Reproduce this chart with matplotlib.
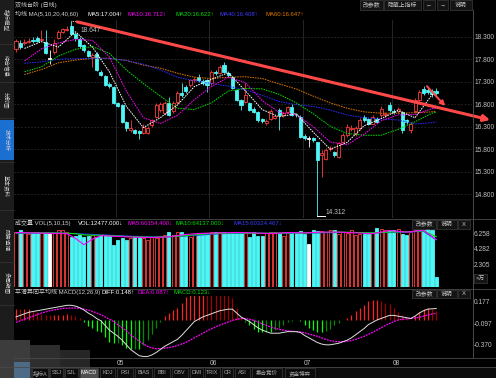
import matplotlib
matplotlib.use("Agg")
import matplotlib.pyplot as plt
from matplotlib.patches import Rectangle
import numpy as np

plt.rcParams['font.family'] = ['Liberation Sans', 'Noto Sans CJK SC', 'DejaVu Sans']

W, H = 496, 378

# ---------------- data ----------------
OPEN = [18.02, 18.16, 18.15, 18.18, 18.23, 18.26, 18.22, 18.19, 17.81, 17.95,
        18.28, 18.41, 18.45, 18.53, 18.37, 18.25, 18.11, 17.98, 17.85, 17.91,
        17.52, 17.42, 17.25, 17.18, 16.82, 16.78, 16.41, 16.22, 16.22, 16.21,
        16.15, 16.17, 16.33, 16.52, 16.67, 16.60, 16.82, 16.65, 16.85, 17.05,
        17.19, 17.23, 17.33, 17.41, 17.31, 17.33, 17.26, 17.52, 17.50, 17.67,
        17.50, 17.41, 17.11, 16.89, 16.85, 16.83, 16.70, 16.63, 16.47, 16.38,
        16.48, 16.50, 16.67, 16.55, 16.63, 16.74, 16.57, 16.52, 16.10, 16.03,
        16.04, 15.95, 15.68, 15.59, 15.80, 15.74, 15.63, 15.97, 16.11, 16.25,
        16.13, 16.26, 16.52, 16.47, 16.37, 16.48, 16.55, 16.55, 16.78, 16.65,
        16.65, 16.63, 16.45, 16.22, 16.65, 16.89, 17.13, 17.11, 17.09, 17.10]
CLOSE = [18.20, 18.06, 18.19, 18.21, 18.20, 18.21, 18.25, 17.94, 17.81, 18.17,
         18.41, 18.46, 18.48, 18.37, 18.26, 18.09, 18.00, 17.88, 17.89, 17.56,
         17.45, 17.22, 17.21, 16.82, 16.77, 16.41, 16.26, 16.27, 16.17, 16.15,
         16.30, 16.26, 16.44, 16.78, 16.80, 16.83, 16.55, 16.83, 17.05, 17.00,
         17.10, 17.33, 17.36, 17.33, 17.26, 17.22, 17.52, 17.49, 17.63, 17.52,
         17.45, 17.15, 16.89, 16.78, 17.00, 16.67, 16.63, 16.45, 16.43, 16.43,
         16.65, 16.53, 16.56, 16.60, 16.74, 16.56, 16.55, 16.07, 16.05, 16.03,
         16.01, 15.55, 15.71, 15.78, 15.83, 15.67, 15.93, 16.11, 16.30, 16.28,
         16.28, 16.44, 16.44, 16.37, 16.52, 16.41, 16.70, 16.58, 16.67, 16.63,
         16.69, 16.22, 16.41, 16.37, 16.89, 17.07, 17.05, 17.07, 17.03, 17.05]
HIGH = [18.25, 18.22, 18.25, 18.27, 18.29, 18.31, 18.45, 18.45, 18.00, 18.25,
        18.45, 18.50, 18.53, 18.647, 18.40, 18.30, 18.13, 18.01, 17.93, 17.95,
        17.55, 17.45, 17.30, 17.20, 16.85, 16.80, 16.43, 16.45, 16.25, 16.23,
        16.35, 16.31, 16.47, 16.83, 16.85, 16.87, 16.95, 16.87, 17.10, 17.26,
        17.23, 17.37, 17.41, 17.47, 17.35, 17.35, 17.55, 17.57, 17.67, 17.73,
        17.53, 17.43, 17.13, 16.91, 17.26, 16.85, 16.73, 16.65, 16.50, 16.47,
        16.69, 16.57, 16.71, 16.63, 16.77, 16.80, 16.60, 16.55, 16.13, 16.10,
        16.07, 15.97, 15.78, 15.83, 15.87, 15.77, 15.97, 16.15, 16.35, 16.33,
        16.31, 16.50, 16.55, 16.50, 16.55, 16.51, 16.75, 16.63, 16.85, 16.69,
        16.73, 16.65, 16.47, 16.41, 16.93, 17.11, 17.21, 17.17, 17.13, 17.15]
LOW = [17.97, 18.02, 18.11, 18.15, 18.17, 18.19, 18.20, 17.92, 17.69, 17.91,
       18.25, 18.38, 18.42, 18.35, 18.20, 18.05, 17.97, 17.85, 17.63, 17.53,
       17.43, 17.20, 17.17, 16.80, 16.73, 16.39, 16.20, 16.18, 16.13, 16.02,
       16.13, 16.13, 16.30, 16.49, 16.63, 16.57, 16.53, 16.60, 16.81, 16.97,
       17.05, 17.19, 17.30, 17.30, 17.23, 17.07, 17.23, 17.45, 17.47, 17.49,
       17.41, 17.13, 16.87, 16.67, 16.83, 16.65, 16.60, 16.40, 16.39, 16.34,
       16.45, 16.47, 16.22, 16.51, 16.60, 16.53, 16.51, 16.05, 16.01, 15.85,
       15.97, 14.312, 15.18, 15.55, 15.75, 15.63, 15.60, 15.93, 16.07, 16.20,
       16.10, 16.23, 16.40, 16.33, 16.35, 16.38, 16.52, 16.51, 16.63, 16.59,
       16.61, 16.17, 16.35, 16.15, 16.60, 16.85, 17.01, 17.03, 16.97, 17.01]

# price moving averages, sampled at candle indices MA_IDX
MA_IDX = [2, 6, 10, 14, 18, 22, 26, 30, 34, 38, 42, 46, 50, 54, 58, 62, 66,
          70, 74, 78, 82, 86, 90, 94, 98, 99]
MA5 = [18.04, 18.19, 18.07, 18.41, 18.07, 17.52, 16.75, 16.28, 16.50, 16.78,
       17.19, 17.35, 17.50, 17.10, 16.68, 16.52, 16.59, 16.18, 15.80, 15.95,
       16.32, 16.48, 16.66, 16.50, 17.01, 17.004]
MA10 = [17.76, 18.03, 18.16, 18.24, 18.22, 17.85, 17.09, 16.50, 16.37, 16.55,
        16.90, 17.19, 17.40, 17.28, 16.88, 16.62, 16.57, 16.30, 15.96, 15.90,
        16.13, 16.43, 16.56, 16.57, 16.70, 16.712]
MA20 = [17.52, 17.63, 17.87, 18.02, 18.08, 17.93, 17.56, 17.26, 16.98, 16.71,
        16.68, 16.83, 17.09, 17.15, 17.14, 17.02, 16.83, 16.59, 16.31, 16.15,
        16.11, 16.11, 16.24, 16.41, 16.60, 16.622]
MA40 = [17.71, 17.74, 17.80, 17.81, 17.82, 17.82, 17.77, 17.69, 17.56, 17.40,
        17.32, 17.26, 17.20, 17.12, 17.00, 16.86, 16.79, 16.75, 16.67, 16.56,
        16.50, 16.47, 16.45, 16.36, 16.39, 16.408]
MA60 = [17.46, 17.57, 17.72, 17.78, 17.82, 17.82, 17.77, 17.67, 17.60, 17.49,
        17.40, 17.37, 17.40, 17.41, 17.37, 17.25, 17.14, 16.98, 16.83, 16.71,
        16.63, 16.60, 16.60, 16.61, 16.63, 16.647]

# volume in units of 10 000 (万)
VOLUME = [7.06, 7.27, 7.06, 6.72, 6.97, 6.97, 6.84, 6.84, 6.84, 6.84,
          7.27, 7.27, 7.06, 6.42, 6.55, 6.63, 6.42, 6.55, 6.63, 6.42,
          6.63, 6.63, 6.55, 5.36, 6.00, 6.21, 6.00, 6.21, 6.42, 6.42,
          6.21, 6.00, 6.42, 6.21, 6.42, 6.63, 6.97, 6.63, 7.06, 7.06,
          6.63, 6.42, 6.63, 6.84, 6.72, 6.84, 6.97, 7.06, 6.97, 7.06,
          6.84, 7.06, 6.84, 6.97, 7.06, 6.42, 7.06, 6.55, 6.55, 6.84,
          7.06, 7.06, 6.84, 6.55, 6.84, 7.06, 7.06, 7.14, 6.72, 5.44,
          7.30, 7.14, 7.14, 6.97, 7.30, 7.30, 6.72, 6.97, 6.84, 7.30,
          6.63, 6.72, 6.72, 6.72, 6.84, 7.50, 7.40, 7.27, 7.27, 7.27,
          7.35, 6.72, 6.63, 6.97, 7.27, 7.27, 7.30, 7.40, 7.27, 1.25]
VMA_IDX = [0, 4, 8, 12, 14, 16, 18, 20, 24, 28, 32, 36, 40, 44, 48, 52, 56,
           60, 64, 68, 72, 76, 80, 84, 88, 92, 96, 99]
VMA5 = [6.95, 6.90, 6.85, 6.80, 6.20, 5.40, 6.10, 6.55, 6.45, 6.35, 6.30, 6.40,
        6.70, 6.85, 6.90, 6.95, 6.90, 6.80, 6.95, 6.90, 7.00, 7.00, 6.90, 6.80,
        7.20, 7.00, 7.25, 6.02]
VMA10 = [6.90, 6.90, 6.90, 6.85, 6.80, 6.65, 6.60, 6.60, 6.50, 6.40, 6.35, 6.40,
         6.55, 6.75, 6.85, 6.90, 6.85, 6.85, 6.90, 6.90, 6.95, 7.00, 6.95, 6.90,
         7.00, 7.05, 7.15, 6.41]
VMA15 = [6.85, 6.85, 6.90, 6.85, 6.80, 6.75, 6.70, 6.65, 6.55, 6.45, 6.40, 6.40,
         6.50, 6.65, 6.80, 6.85, 6.85, 6.85, 6.85, 6.90, 6.90, 6.95, 6.95, 6.90,
         6.95, 7.00, 7.10, 6.03]

DIFF = [0.04, 0.06, 0.08, 0.10, 0.11, 0.12, 0.13, 0.14, 0.15, 0.16,
        0.17, 0.18, 0.19, 0.19, 0.18, 0.16, 0.13, 0.09, 0.06, 0.02,
        -0.01, -0.07, -0.13, -0.17, -0.21, -0.26, -0.32, -0.38, -0.42, -0.46,
        -0.47, -0.47, -0.45, -0.42, -0.38, -0.34, -0.31, -0.28, -0.25, -0.20,
        -0.14, -0.08, -0.02, 0.01, 0.04, 0.06, 0.08, 0.10, 0.12, 0.13,
        0.14, 0.14, 0.09, 0.04, 0.01, -0.02, -0.06, -0.10, -0.13, -0.15,
        -0.17, -0.17, -0.17, -0.16, -0.15, -0.15, -0.15, -0.16, -0.20, -0.23,
        -0.26, -0.29, -0.31, -0.32, -0.32, -0.31, -0.30, -0.28, -0.26, -0.23,
        -0.19, -0.15, -0.11, -0.06, -0.03, 0.00, 0.02, 0.04, 0.06, 0.06,
        0.05, 0.04, 0.03, 0.02, 0.05, 0.09, 0.12, 0.14, 0.145, 0.148]
DEA = [-0.03, -0.01, 0.01, 0.03, 0.05, 0.07, 0.09, 0.105, 0.12, 0.13,
       0.14, 0.15, 0.152, 0.155, 0.155, 0.15, 0.14, 0.13, 0.11, 0.09,
       0.07, 0.04, 0.01, -0.02, -0.06, -0.10, -0.14, -0.19, -0.23, -0.27,
       -0.31, -0.34, -0.36, -0.37, -0.37, -0.365, -0.355, -0.345, -0.33, -0.31,
       -0.29, -0.26, -0.23, -0.20, -0.17, -0.14, -0.115, -0.09, -0.065, -0.045,
       -0.025, -0.005, 0.01, 0.02, 0.02, 0.01, -0.005, -0.025, -0.05, -0.07,
       -0.09, -0.105, -0.12, -0.13, -0.14, -0.145, -0.15, -0.155, -0.165, -0.18,
       -0.195, -0.21, -0.23, -0.25, -0.265, -0.275, -0.28, -0.28, -0.275, -0.265,
       -0.25, -0.23, -0.21, -0.185, -0.16, -0.13, -0.10, -0.07, -0.045, -0.02,
       0.0, 0.01, 0.015, 0.02, 0.025, 0.035, 0.05, 0.065, 0.077, 0.087]

PRICE_TICKS = [18.3, 17.8, 17.3, 16.8, 16.3, 15.8, 15.3, 14.8]
VOL_TICKS = [6.258, 4.282, 2.305]
MACD_TICKS = [0.177, -0.097, -0.370]
MONTH_START = [24, 46, 68, 89]
MONTH_LABELS = ['05', '06', '07', '08']
HIGH_IDX, LOW_IDX = 13, 71
TREND = ((14.4, 18.63), (111.7, 16.45))
SMALL_ARROW = ((96.8, 17.20), (101.1, 16.76))

# ---------------- styling ----------------
TXT = '#c0c0c0'
GRID = '#2c2c2c'
RED = '#ff3c3c'
CYAN = '#4ef6f6'
MAG = '#ff00ff'
GRN = '#00e000'
BLU = '#2a2aff'
ORG = '#e07800'
FS = 4.3                       # header font size
X0, DX = 16.0, 4.245          # pixel x of candle 0, pixel spacing

fig = plt.figure(figsize=(W / 100, H / 100), dpi=100, facecolor='black')


def px_axes(l, t, r, b):
    ax = fig.add_axes([l / W, 1 - b / H, (r - l) / W, (b - t) / H])
    ax.set_facecolor('black')
    ax.set_xlim((l - X0) / DX, (r - X0) / DX)
    for s in ax.spines.values():
        s.set_visible(False)
    ax.tick_params(axis='x', bottom=False, labelbottom=False)
    ax.yaxis.tick_right()
    ax.tick_params(axis='y', length=0, pad=1.5, labelsize=4.8, labelcolor=TXT)
    return ax


def T(x, y, s, color=TXT, size=FS, ha='left', **kw):
    fig.text(x / W, 1 - y / H, s, color=color, fontsize=size, ha=ha,
             va='center', **kw)


def style(j):
    if CLOSE[j] > OPEN[j]:
        return RED, 'black'
    if CLOSE[j] < OPEN[j]:
        return CYAN, CYAN
    return 'white', 'white'


N = len(CLOSE)
idx = np.arange(N)

# ---------------- price panel ----------------
axp = px_axes(14, 20, 472, 218)
axp.set_ylim(14.271, 18.671)
axp.set_yticks(PRICE_TICKS)
axp.set_yticklabels([f'{v:.3f}' for v in PRICE_TICKS])
for v in PRICE_TICKS:
    axp.axhline(v, color=GRID, lw=0.6, ls=(0, (2, 2)), zorder=0)
for m in MONTH_START:
    axp.axvline(m - 0.5, color=GRID, lw=0.6, zorder=0)
for j in range(N):
    ec, fc = style(j)
    axp.vlines(j, LOW[j], HIGH[j], color=ec, lw=0.6, zorder=3)
    b = min(OPEN[j], CLOSE[j])
    h = max(abs(CLOSE[j] - OPEN[j]), 0.01)
    axp.add_patch(Rectangle((j - 0.36, b), 0.72, h, facecolor=fc,
                            edgecolor=ec, lw=0.6, zorder=4))
dash = (0, (1.6, 1.0))
axp.plot(MA_IDX, MA60, color=ORG, lw=0.7, ls=dash, zorder=5)
axp.plot(MA_IDX, MA40, color=BLU, lw=0.7, ls=dash, zorder=5)
axp.plot(MA_IDX, MA20, color=GRN, lw=0.7, ls=dash, zorder=5)
axp.plot(MA_IDX, MA10, color=MAG, lw=0.7, ls=dash, zorder=5)
axp.plot(MA_IDX, MA5, color='white', lw=0.7, ls=dash, zorder=5)

axp.plot([HIGH_IDX, HIGH_IDX + 2], [HIGH[HIGH_IDX]] * 2, color='white',
         lw=0.6, ls=(0, (1, 1)), zorder=6)
axp.text(HIGH_IDX + 2.2, HIGH[HIGH_IDX] - 0.2, f'{HIGH[HIGH_IDX]:.3f}',
         color=TXT, fontsize=4.8, va='center', zorder=9)
axp.plot([LOW_IDX, LOW_IDX + 1.8], [LOW[LOW_IDX]] * 2, color='white',
         lw=0.7, zorder=6, clip_on=False)
axp.text(LOW_IDX + 2.0, LOW[LOW_IDX] + 0.08, f'{LOW[LOW_IDX]:.3f}',
         color=TXT, fontsize=4.8, va='center', zorder=6)

axp.annotate('', xy=TREND[1], xytext=TREND[0], annotation_clip=False,
             arrowprops=dict(arrowstyle='-|>', color='#ff4848', lw=2.2,
                             mutation_scale=9, shrinkA=0, shrinkB=0),
             zorder=8)
axp.annotate('', xy=SMALL_ARROW[1], xytext=SMALL_ARROW[0],
             annotation_clip=False,
             arrowprops=dict(arrowstyle='-|>', color='#ff4848', lw=1.4,
                             mutation_scale=7, shrinkA=0, shrinkB=0),
             zorder=8)

# ---------------- volume panel ----------------
axv = px_axes(14, 227, 472, 287)
axv.set_ylim(0, 7.65)
axv.set_yticks(VOL_TICKS)
axv.set_yticklabels([f'{v:.3f}' for v in VOL_TICKS])
for lbl in axv.get_yticklabels():
    lbl.set_va('bottom')
for j in range(N):
    ec, fc = style(j)
    axv.add_patch(Rectangle((j - 0.36, 0), 0.72, VOLUME[j], facecolor=fc,
                            edgecolor=ec, lw=0.6, zorder=3))
axv.plot(VMA_IDX, VMA15, color=BLU, lw=0.8, zorder=5)
axv.plot(VMA_IDX, VMA10, color=GRN, lw=0.8, zorder=5)
axv.plot(VMA_IDX, VMA5, color=MAG, lw=0.8, zorder=5)

# ---------------- MACD panel ----------------
axm = px_axes(14, 296, 472, 357)
axm.set_ylim(-0.477, 0.310)
axm.set_yticks(MACD_TICKS)
axm.set_yticklabels([f'{v:.3f}' for v in MACD_TICKS])
for lbl in axm.get_yticklabels():
    lbl.set_va('bottom')
hist = [2 * (a - b) for a, b in zip(DIFF, DEA)]
for j in range(N):
    hv = hist[j]
    grow = j == 0 or abs(hv) >= abs(hist[j - 1])
    if hv >= 0:
        col = '#ff2020' if grow else '#a00000'
    else:
        col = '#00ff00' if grow else '#008a00'
    axm.vlines(j, 0, hv, color=col, lw=0.9, zorder=3)
axm.plot(idx, DEA, color=MAG, lw=0.9, ls=(0, (1.5, 0.8)), zorder=5)
axm.plot(idx, DIFF, color='#e0e0e0', lw=0.7, zorder=6)
for m, lab in zip(MONTH_START, MONTH_LABELS):
    axm.text(m - 0.3, -0.56, lab, color=TXT, fontsize=4.8, va='center',
             clip_on=False)

# ---------------- frame lines ----------------
def hline(y, x0, x1, c='#3a3a3a', lw=0.6):
    fig.add_artist(plt.Line2D([x0 / W, x1 / W], [1 - y / H, 1 - y / H],
                              color=c, lw=lw))


def vline(x, y0, y1, c='#3a3a3a', lw=0.6):
    fig.add_artist(plt.Line2D([x / W, x / W], [1 - y0 / H, 1 - y1 / H],
                              color=c, lw=lw))

vline(472.5, 10, 358, '#555555')
hline(219, 14, 496, '#4a4a4a')
hline(288.5, 14, 496, '#4a4a4a')
hline(357.5, 14, 496, '#4a4a4a')
hline(366.5, 0, 496, '#4a4a4a')

# ---------------- left sidebar ----------------
fig.add_artist(Rectangle((0, 1 - 340 / H), 13.5 / W, 340 / H,
                         transform=fig.transFigure, facecolor='#1c1c1c',
                         edgecolor='none'))
fig.add_artist(Rectangle((0, 1 - 160 / H), 13.5 / W, 40 / H,
                         transform=fig.transFigure, facecolor='#1a6fd0',
                         edgecolor='none'))
SIDE_TABS = [(20, '指标模型'), (66, '综合信息'), (100, '分时图'),
             (140, '技术分析'), (186, '基本资料'), (240, '财务透视'),
             (283, '多周期图')]
for yy, s in SIDE_TABS:
    fig.text(6.5 / W, 1 - yy / H, s, rotation=-90, color='#d0d0d0',
             fontsize=4, ha='center', va='center')
for yy in [44, 82, 118, 162, 210, 262, 305]:
    hline(yy, 0, 13.5, '#333333')

# blurred corner
for (x0, y0, w, h, c) in [(0, 340, 30, 38, '#3c3c3c'), (14, 362, 16, 16, '#4d6a86'),
                          (30, 345, 30, 33, '#2e2e2e'), (60, 350, 30, 28, '#262626')]:
    fig.add_artist(Rectangle((x0 / W, 1 - (y0 + h) / H), w / W, h / H,
                             transform=fig.transFigure, facecolor=c,
                             edgecolor='none'))

# ---------------- header texts ----------------
T(15, 5, '双线台阶 (日线)', '#d0d0d0')
T(15, 14, '均线 MA(5,10,20,40,60)', '#d0d0d0')
T(87, 14, 'MA5:17.004↑', '#ffffff')
T(128, 14, 'MA10:16.712↑', MAG)
T(175, 14, 'MA20:16.622↑', GRN)
T(220, 14, 'MA40:16.408↑', '#3c3cff')
T(265, 14, 'MA60:16.647↑', ORG)

T(15, 223, '成交量 VOL(5,10,15)', '#d0d0d0')
T(78, 223, 'VOL:12477.000↓', '#ffffff')
T(128, 223, 'MA5:60154.400↓', MAG)
T(175, 223, 'MA10:64137.000↓', GRN)
T(233, 223, 'MA15:60324.467↓', '#3c3cff')

T(15, 292, '平滑异同平均线 MACD(12,26,9)', '#d0d0d0')
T(101, 292, 'DIFF:0.148↑', '#ffffff')
T(138, 292, 'DEA:0.087↑', MAG)
T(173, 292, 'MACD:0.123↓', GRN)


def button(x0, x1, y0, y1, s):
    fig.add_artist(Rectangle((x0 / W, 1 - y1 / H), (x1 - x0) / W, (y1 - y0) / H,
                             transform=fig.transFigure, facecolor='#141414',
                             edgecolor='#3c3c3c', lw=0.5))
    T((x0 + x1) / 2, (y0 + y1) / 2, s, '#c8c8c8', 4.2, ha='center')

for (a, b, s) in [(360, 383, '改参数'), (384, 421, '隐藏上指标'), (423, 435, '←'),
                  (437, 448, '→'), (450, 472, '说明')]:
    button(a, b, 0, 9.5, s)
for yy in (220, 289.5):
    for (a, b, s) in [(412, 436, '改参数'), (437, 457, '说明'), (458, 470, 'X')]:
        button(a, b, yy, yy + 8.5, s)
button(474, 487, 274, 283, '×万')

# ---------------- bottom tabs ----------------
fig.add_artist(Rectangle((0, 0), 1, 11.5 / H, transform=fig.transFigure,
                         facecolor='#0c0c0c', edgecolor='none', zorder=-1))
TABS = [(32, 48, '指标A'), (50, 63, 'SSJ'), (65, 78, 'SJL'), (80, 98, 'MACD'),
        (100, 115, 'KDJ'), (117, 133, 'RSI'), (135, 152, 'BIAS'),
        (154, 170, 'BBI'), (172, 188, 'OBV'), (190, 203, 'DMI'),
        (205, 220, 'TRIX'), (222, 233, 'CR'), (235, 250, 'ASI'),
        (252, 282, '集合竞价'), (285, 315, '资金博弈')]
for a, b, s in TABS:
    hi = s == 'MACD'
    fig.add_artist(Rectangle((a / W, 0), (b - a) / W, 10.5 / H,
                             transform=fig.transFigure,
                             facecolor='#505050' if hi else '#0c0c0c',
                             edgecolor='#3a3a3a', lw=0.5))
    T((a + b) / 2, 373, s, '#ffffff' if hi else '#a8a8a8', 4.0, ha='center')

fig.savefig('out.png', dpi=100, facecolor='black')
